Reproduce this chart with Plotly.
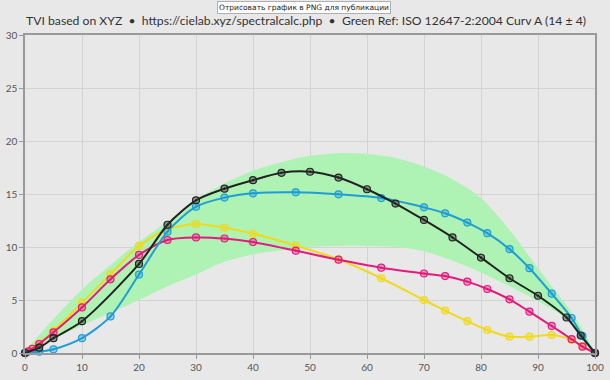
import plotly.graph_objects as go

# Green reference band (ISO 12647-2:2004 Curve A, 14 +/- 4)
band_x = [0, 2.5, 5, 10, 15, 20, 25, 30, 35, 40, 45, 50, 55, 60, 65, 70, 75, 80, 85, 90, 95, 97.5, 100]
band_upper = [0, 1.7, 3.2, 6.0, 8.3, 10.5, 12.4, 14.5, 16.0, 17.2, 18.0, 18.6, 18.85, 18.8, 18.4, 17.6, 16.4, 14.6, 11.6, 8.0, 4.5, 2.5, 0]
band_lower = [0, 0.65, 1.3, 2.6, 3.8, 5.0, 6.3, 7.4, 8.6, 9.3, 9.7, 10.0, 10.1, 10.1, 10.0, 9.6, 8.7, 7.6, 6.3, 4.9, 3.2, 1.8, 0]

# Black
k_x = [0, 2.5, 5, 10, 20, 25, 30, 35, 40, 45, 50, 55, 60, 65, 70, 75, 80, 85, 90, 95, 97.5, 100]
k_y = [0, 0.5, 1.4, 3.0, 8.4, 12.1, 14.4, 15.5, 16.3, 17.0, 17.1, 16.55, 15.45, 14.1, 12.55, 10.9, 9.0, 7.05, 5.4, 3.35, 1.65, 0]

# Cyan
c_x = [0, 2.5, 5, 10, 15, 20, 25, 30, 35, 40, 47.5, 55, 62.5, 70, 73.7, 77.6, 81.1, 85, 88.5, 92.4, 95.9, 97.8, 100]
c_y = [0, 0.12, 0.35, 1.4, 3.45, 7.4, 11.45, 13.8, 14.66, 15.06, 15.16, 14.97, 14.62, 13.74, 13.18, 12.3, 11.3, 9.8, 8.0, 5.6, 3.3, 1.6, 0]

# Magenta and Yellow
my_x = [0, 0.6, 1.3, 2.5, 5, 10, 15, 20, 25, 30, 35, 40, 47.5, 55, 62.5, 70, 73.7, 77.6, 81.1, 85, 88.5, 92.4, 95.9, 97.8, 100]
m_y = [0, 0.15, 0.4, 0.85, 1.95, 4.3, 6.95, 9.25, 10.66, 10.9, 10.8, 10.47, 9.65, 8.8, 8.05, 7.5, 7.26, 6.73, 6.04, 5.06, 3.9, 2.55, 1.3, 0.6, 0]
y_y = [0, 0.15, 0.44, 0.9, 2.1, 4.75, 7.45, 10.1, 11.67, 12.17, 11.82, 11.26, 10.13, 8.84, 7.05, 5.0, 4.0, 3.0, 2.17, 1.54, 1.54, 1.7, 1.23, 0.66, 0]

x_ticks = list(range(0, 101, 10))
y_ticks = list(range(0, 31, 5))

fig = go.Figure()

fig.add_trace(go.Scatter(
    x=band_x + band_x[::-1],
    y=band_upper + band_lower[::-1],
    fill="toself", fillcolor="#aef3b4",
    line=dict(width=0, shape="spline"),
    mode="lines", hoverinfo="skip", showlegend=False,
))


def add_series(xs, ys, color, fillc):
    fig.add_trace(go.Scatter(
        x=xs, y=ys, mode="lines+markers",
        line=dict(color=color, width=2, shape="spline", smoothing=0.8),
        marker=dict(symbol="circle-dot", size=7, color=fillc,
                    line=dict(color=color, width=1.2)),
        cliponaxis=False, showlegend=False,
    ))


add_series(my_x, y_y, "#f0da1c", "rgba(240,218,28,0.45)")
add_series(my_x, m_y, "#e6197c", "rgba(230,25,124,0.35)")
add_series(c_x, c_y, "#1e9dd6", "rgba(30,157,214,0.35)")
add_series(k_x, k_y, "#222222", "rgba(60,60,60,0.45)")

axis_common = dict(
    showgrid=True, gridcolor="#d3d3d3", gridwidth=1,
    showline=True, linecolor="#9a9a9a", linewidth=1.5, mirror=True,
    ticks="outside", ticklen=4, tickcolor="#9a9a9a",
    tickfont=dict(family="Lato, Open Sans, sans-serif", size=10, color="#555555"),
    zeroline=False, fixedrange=True, automargin=False,
)

fig.update_layout(
    width=610, height=380,
    margin=dict(l=25, r=15, t=35, b=27, autoexpand=False),
    paper_bgcolor="#e8e8e8", plot_bgcolor="#e8e8e8",
    title=dict(
        text="TVI based on XYZ  •  https://cielab.xyz/spectralcalc.php  •  Green Ref: ISO 12647-2:2004 Curv A (14 ± 4)",
        x=306 / 610, xref="container", xanchor="center",
        y=1 - 21 / 380, yref="container", yanchor="middle",
        font=dict(family="Lato, sans-serif", size=12.2, color="#333333"),
    ),
    xaxis=dict(range=[0, 100], tickvals=x_ticks, **axis_common),
    yaxis=dict(range=[0, 30], tickvals=y_ticks, **axis_common),
    annotations=[dict(
        text="Отрисовать график в PNG для публикации",
        xref="paper", yref="paper", x=0.489, y=1.0865,
        xanchor="center", yanchor="middle", showarrow=False,
        font=dict(family="DejaVu Sans, sans-serif", size=7.5, color="#222222"),
        bgcolor="#ffffff", bordercolor="#b0b0b0", borderwidth=1, borderpad=1,
    )],
)

fig.write_html("out.html", config={"displayModeBar": False},
               post_script="document.body.style.margin='0px';")
